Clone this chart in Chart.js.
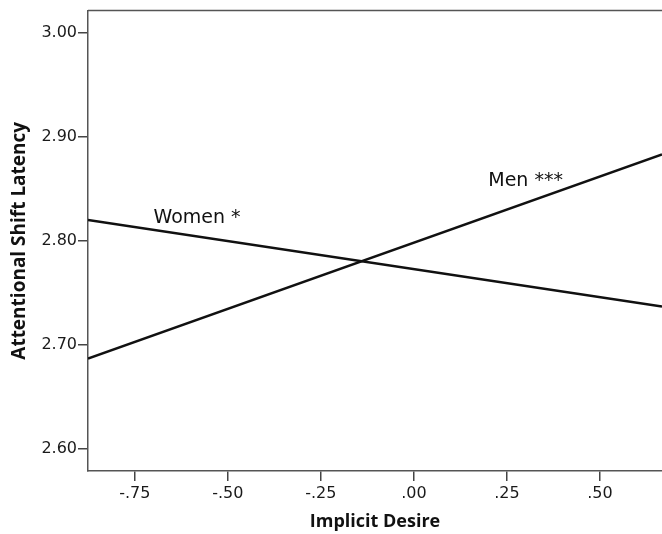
<!DOCTYPE html>
<html>
<head>
<meta charset="utf-8">
<script src="https://cdn.jsdelivr.net/npm/chart.js@4.4.1/dist/chart.umd.min.js"></script>
<style>
  html, body { margin: 0; padding: 0; background: #fff; }
  #wrap { width: 662px; height: 534px; position: relative; }
</style>
</head>
<body>
<div id="wrap"><canvas id="slopeChart"></canvas></div>
<script>
// line end points along Implicit Desire
const desireX = [-0.876, 0.667];
const womenY = [2.820, 2.737];
const menY = [2.687, 2.883];

const xTicks = [-0.75, -0.5, -0.25, 0, 0.25, 0.5];
const xTickLabels = ["-.75", "-.50", "-.25", ".00", ".25", ".50"];
const yTicks = [2.6, 2.7, 2.8, 2.9, 3.0];
const yTickLabels = ["2.60", "2.70", "2.80", "2.90", "3.00"];

const lineNames = ["Women *", "Men ***"];
const nameX = [-0.70, 0.20];
const nameY = [2.822, 2.857];

const toPoints = (ys) => desireX.map((x, i) => ({ x: x, y: ys[i] }));

const boxAndNames = {
    id: "boxAndNames",
    afterDraw(chart) {
        const { ctx, chartArea, scales } = chart;
        ctx.save();
        ctx.strokeStyle = "#555";
        ctx.lineWidth = 1.5;
        ctx.beginPath();
        ctx.moveTo(chartArea.left, chartArea.top);
        ctx.lineTo(chartArea.right, chartArea.top);
        ctx.stroke();

        ctx.fillStyle = "#111";
        ctx.font = "19px 'DejaVu Sans'";
        ctx.textAlign = "left";
        ctx.textBaseline = "middle";
        lineNames.forEach((t, i) => {
            ctx.fillText(t, scales.x.getPixelForValue(nameX[i]), scales.y.getPixelForValue(nameY[i]));
        });
        ctx.restore();
    }
};

const ctx = document.getElementById("slopeChart").getContext("2d");

new Chart(ctx, {
    type: "scatter",
    data: {
        datasets: [
            {
                label: "Women",
                data: toPoints(womenY),
                showLine: true,
                borderColor: "#111",
                borderWidth: 2.5,
                pointRadius: 0
            },
            {
                label: "Men",
                data: toPoints(menY),
                showLine: true,
                borderColor: "#111",
                borderWidth: 2.5,
                pointRadius: 0
            }
        ]
    },
    options: {
        responsive: true,
        maintainAspectRatio: false,
        animation: false,
        layout: { padding: { top: 10, right: 0, left: 0, bottom: 0 } },
        scales: {
            x: {
                type: "linear",
                min: desireX[0],
                max: desireX[1],
                afterBuildTicks: (s) => { s.ticks = xTicks.map(v => ({ value: v })); },
                afterFit: (s) => { s.height = 63; },
                ticks: {
                    color: "#1a1a1a",
                    font: { family: "DejaVu Sans", size: 16 },
                    padding: 3,
                    maxRotation: 0,
                    callback: (v) => xTickLabels[xTicks.indexOf(v)]
                },
                grid: { drawOnChartArea: false, drawTicks: true, tickLength: 10, color: "#444", lineWidth: 1.5 },
                border: { display: true, color: "#555", width: 1.5 },
                title: {
                    display: true,
                    text: "Implicit Desire",
                    color: "#111",
                    font: { family: "Open Sans", size: 18, weight: "bold" },
                    padding: { top: 0, bottom: 1 }
                }
            },
            y: {
                type: "linear",
                min: 2.579,
                max: 3.021,
                afterBuildTicks: (s) => { s.ticks = yTicks.map(v => ({ value: v })); },
                afterFit: (s) => { s.width = 88; },
                ticks: {
                    color: "#1a1a1a",
                    font: { family: "DejaVu Sans", size: 16 },
                    padding: 1,
                    callback: (v) => yTickLabels[yTicks.findIndex(t => Math.abs(t - v) < 1e-9)]
                },
                grid: { drawOnChartArea: false, drawTicks: true, tickLength: 10, color: "#444", lineWidth: 1.5 },
                border: { display: true, color: "#555", width: 1.5 },
                title: {
                    display: true,
                    text: "Attentional Shift Latency",
                    color: "#111",
                    font: { family: "Open Sans", size: 19, weight: "bold" },
                    padding: { top: 8, bottom: 0 }
                }
            }
        },
        plugins: {
            legend: { display: false },
            tooltip: { enabled: false }
        }
    },
    plugins: [boxAndNames]
});
</script>
</body>
</html>
